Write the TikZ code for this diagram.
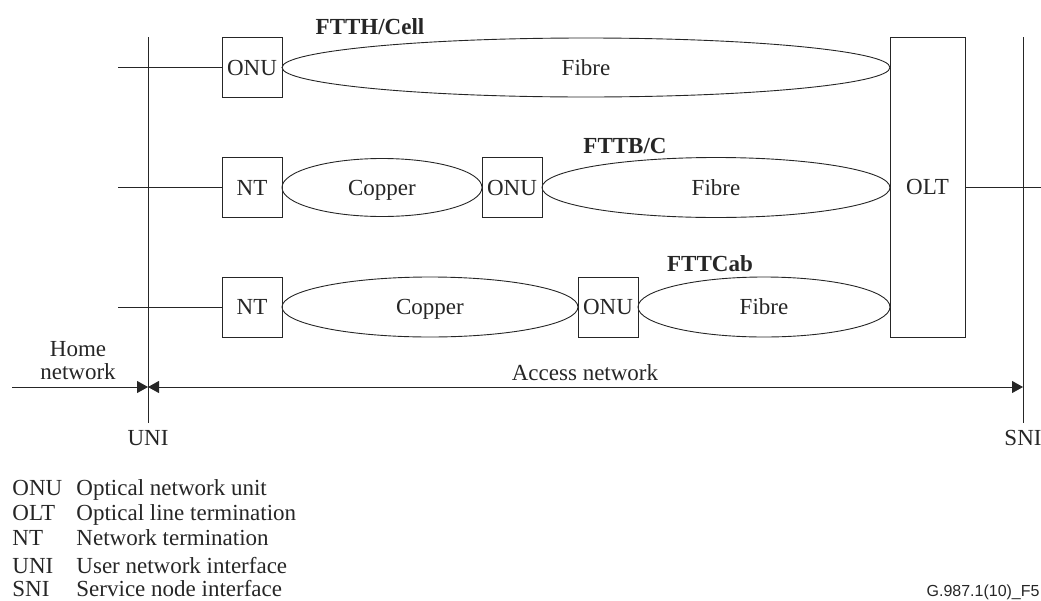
\documentclass[tikz,border=0pt]{standalone}
\usepackage{fontspec}
\setmainfont{Liberation Serif}
\newfontfamily\labelsans{Liberation Sans}
\usetikzlibrary{shapes.geometric,arrows.meta}
\begin{document}
\begin{tikzpicture}[x=1pt,y=-1pt,
  line width=0.9pt, draw=black!85,
  >={Triangle[length=11pt,width=12pt]},
  every node/.style={font=\fontsize{23}{23}\selectfont, text=black!85},
  box/.style={draw=black!85, minimum width=60pt, minimum height=60pt, inner sep=0pt, text height=15pt, text depth=0pt},
  oval/.style={draw=black!85, ellipse, inner sep=0pt, minimum height=59pt, text height=15pt, text depth=0pt},
  tag/.style={font=\fontsize{23}{23}\selectfont\bfseries, anchor=base},
  legend/.style={anchor=base west, inner sep=0pt}]
\useasboundingbox (0,0) rectangle (1041,600);

% boxes
\node[box] (onu1) at (252,67.5) {ONU};
\node[box] (nt2) at (252,187.5) {NT};
\node[box] (onu2) at (512,187.5) {ONU};
\node[box] (nt3) at (252,307) {NT};
\node[box] (onu3) at (608,307) {ONU};
\node[box, minimum width=75pt, minimum height=300pt] (olt) at (927.5,187) {OLT};

% ellipses
\node[oval, minimum width=608pt] (fib1) at (586,67.5) {Fibre};
\node[oval, minimum width=200pt, minimum height=58pt] (cop2) at (382,187.5) {Copper};
\node[oval, minimum width=348pt, minimum height=60pt] (fib2) at (716,187.5) {Fibre};
\node[oval, minimum width=296pt, minimum height=60pt] (cop3) at (430,307) {Copper};
\node[oval, minimum width=252pt, minimum height=60pt] (fib3) at (764,307) {Fibre};

% titles
\node[tag] (t1) at (370,34) {FTTH/Cell};
\node[tag] (t2) at (625,153) {FTTB/C};
\node[tag] (t3) at (710,271) {FTTCab};

% interface lines
\coordinate (unitop) at (148,37);
\coordinate (unibot) at (148,423);
\coordinate (snitop) at (1023,37);
\coordinate (snibot) at (1023,423);
\draw (unitop) -- (unibot);
\draw (snitop) -- (snibot);

% stubs
\coordinate (s1) at (118,67.5);
\coordinate (s2) at (118,187.5);
\coordinate (s3) at (118,307);
\coordinate (oltout) at (1041,187);
\draw (s1) -- (onu1.west);
\draw (s2) -- (nt2.west);
\draw (s3) -- (nt3.west);
\draw (olt.east) -- (oltout);

% network arrows
\coordinate (home) at (12,387);
\coordinate (uniarr) at (148,387);
\coordinate (sniarr) at (1023,387);
\draw[->] (home) -- (uniarr);
\draw[<->] (uniarr) -- (sniarr);

\node[align=center] (homelbl) at (78,361) {Home\\network};
\node (acclbl) at (585,373) {Access network};
\node (unilbl) at (148,438) {UNI};
\node[inner sep=0pt] (snilbl) at (1023,438) {SNI};

% legend
\node[legend] (l1a) at (12,495) {ONU};
\node[legend] (l1b) at (76,495) {Optical network unit};
\node[legend] (l2a) at (12,520) {OLT};
\node[legend] (l2b) at (76,520) {Optical line termination};
\node[legend] (l3a) at (12,545) {NT};
\node[legend] (l3b) at (76,545) {Network termination};
\node[legend] (l4a) at (12,573) {UNI};
\node[legend] (l4b) at (76,573) {User network interface};
\node[legend] (l5a) at (12,596) {SNI};
\node[legend] (l5b) at (76,596) {Service node interface};

\node[anchor=east, inner sep=0pt, font=\labelsans\fontsize{16}{16}\selectfont] (figid) at (1040,592) {G.987.1(10)\_F5};
\end{tikzpicture}
\end{document}
